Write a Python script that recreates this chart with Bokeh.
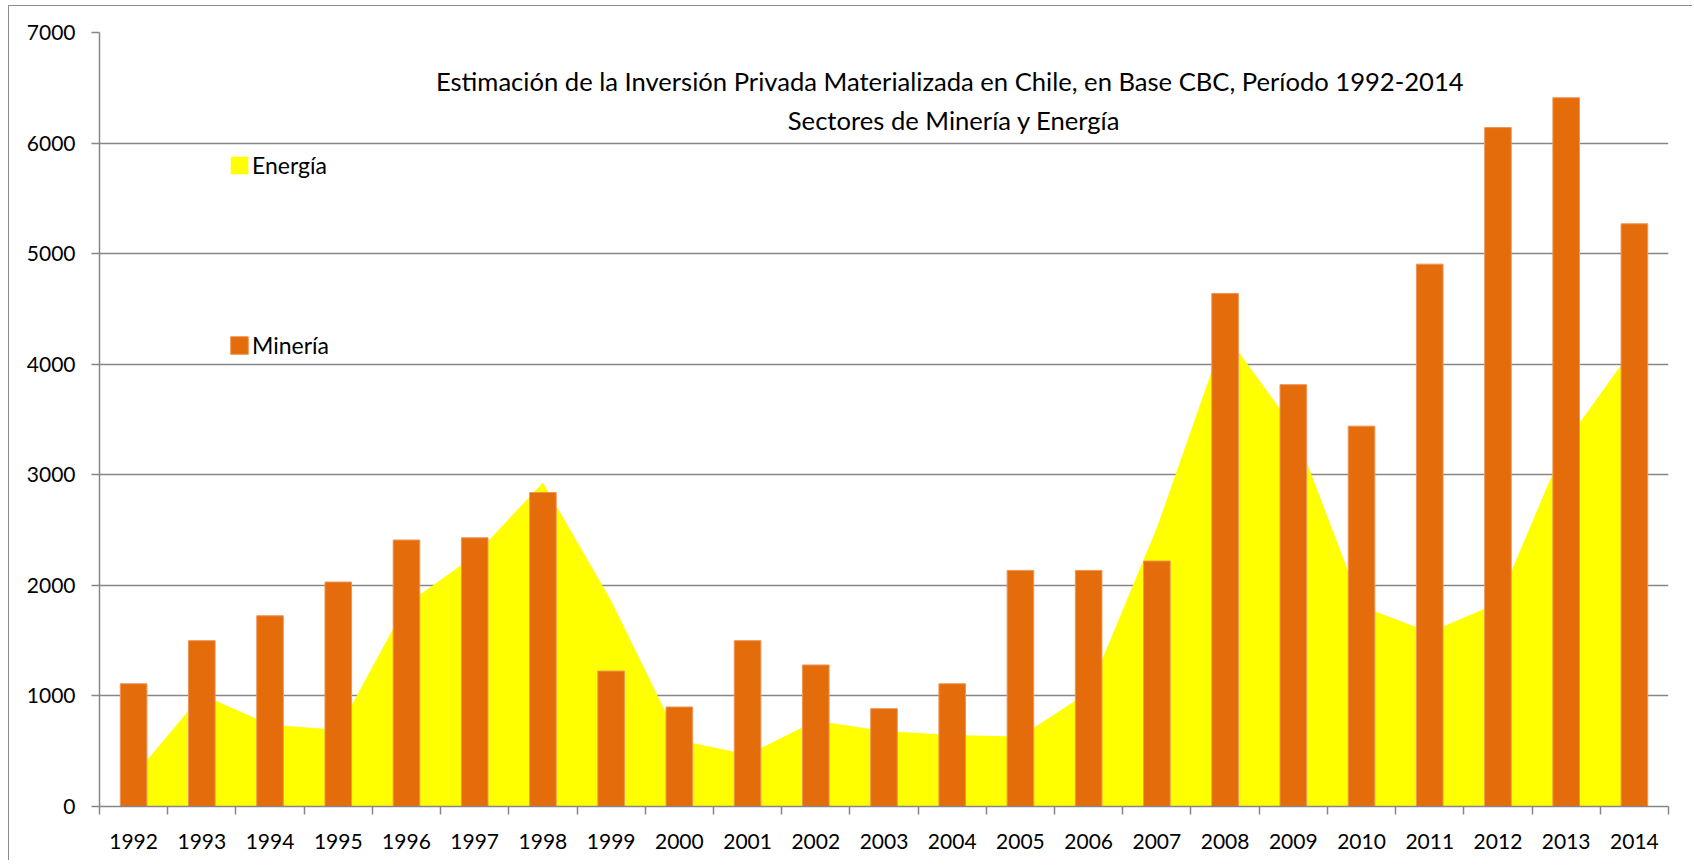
import numpy as np
from bokeh.plotting import figure
from bokeh.models import FixedTicker, Legend, LegendItem, Range1d, Label
from bokeh.embed import file_html
from bokeh.resources import INLINE

# ---- data ----
years = [str(y) for y in range(1992, 2015)]
mineria = [1110, 1500, 1725, 2030, 2410, 2430, 2840, 1225, 900, 1500, 1280, 885,
           1110, 2135, 2135, 2220, 4640, 3815, 3440, 4905, 6140, 6410, 5270]
energia = [275, 1010, 740, 695, 1830, 2270, 2930, 1860, 600, 470, 775, 683,
           646, 632, 1035, 2520, 4280, 3430, 1810, 1575, 1840, 3300, 4160]
y_ticks = [0, 1000, 2000, 3000, 4000, 5000, 6000, 7000]
title_lines = ["Estimación de la Inversión Privada  Materializada en Chile, en Base CBC,  Período 1992-2014",
               "Sectores de Minería y Energía"]
series_names = ["Energía", "Minería"]

FONT = "Lato"
GRID = "#868686"

n = len(years)
xc = np.arange(n) + 0.5

p = figure(width=1684, height=855, x_range=Range1d(0, n), y_range=Range1d(0, 7000),
           output_backend="svg", toolbar_location=None,
           min_border_left=90, min_border_right=25, min_border_top=26, min_border_bottom=55)
p.outline_line_color = None
p.background_fill_color = "white"
p.border_fill_color = "white"
p.styles = {"margin-left": "8px", "margin-top": "5px",
            "border-left": "1px solid #8c8c8c", "border-top": "1px solid #8c8c8c"}

r_area = p.varea(x=xc, y1=0, y2=energia, fill_color="#FFFF00")
r_bar = p.vbar(x=xc, top=mineria, width=0.39, fill_color="#E46C0A",
               line_color="#EE9556", line_width=1)

# axes
xa = p.xaxis[0]
xa.ticker = FixedTicker(ticks=list(xc), minor_ticks=list(range(n + 1)))
xa.major_label_overrides = {float(v): yr for v, yr in zip(xc, years)}
xa.major_tick_line_color = None
xa.minor_tick_line_color = GRID
xa.minor_tick_line_width = 1.5
xa.minor_tick_out = 8
xa.minor_tick_in = 0
xa.axis_line_color = GRID
xa.axis_line_width = 1.5
xa.major_label_text_font = FONT
xa.major_label_text_font_size = "21px"
xa.major_label_text_color = "black"
xa.major_label_standoff = 19

ya = p.yaxis[0]
ya.ticker = FixedTicker(ticks=y_ticks, minor_ticks=[])
ya.major_tick_line_color = GRID
ya.major_tick_line_width = 1.5
ya.major_tick_out = 8
ya.major_tick_in = 0
ya.axis_line_color = GRID
ya.axis_line_width = 1.5
ya.major_label_text_font = FONT
ya.major_label_text_font_size = "21px"
ya.major_label_text_color = "black"
ya.major_label_standoff = 16

p.xgrid.visible = False
p.ygrid.grid_line_color = GRID
p.ygrid.grid_line_width = 1.5

# title (inside plot)
p.add_layout(Label(x=12.56, y=6557, text=title_lines[0], text_align="center",
                   text_baseline="middle", text_font=FONT, text_font_size="25.6px",
                   text_color="black"))
p.add_layout(Label(x=12.53, y=6213, text=title_lines[1], text_align="center",
                   text_baseline="middle", text_font=FONT, text_font_size="25.6px",
                   text_color="black"))

legend = Legend(items=[LegendItem(label=series_names[0], renderers=[r_area]),
                       LegendItem(label=series_names[1], renderers=[r_bar])],
                location=(129, 447), orientation="vertical",
                glyph_width=22, glyph_height=22, label_height=28, label_standoff=2,
                spacing=152, padding=0, margin=0,
                border_line_color=None, background_fill_alpha=0,
                label_text_font=FONT, label_text_font_size="23px", label_text_color="black")
p.add_layout(legend)

open("out.html", "w").write(file_html(p, INLINE))
